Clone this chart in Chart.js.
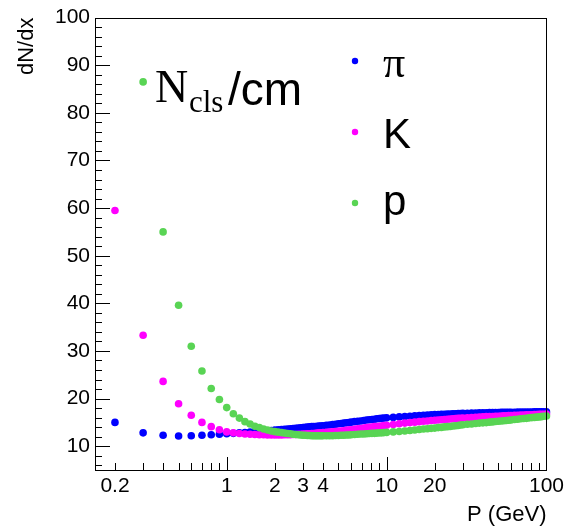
<!DOCTYPE html>
<html>
<head>
<meta charset="utf-8">
<script src="https://cdn.jsdelivr.net/npm/chart.js@4.4.1/dist/chart.umd.min.js"></script>
<style>
  html, body { margin: 0; padding: 0; background: #fff; }
  canvas { display: block; }
</style>
</head>
<body>
<canvas id="dedxChart" width="568" height="531"></canvas>
<script>
// momentum grid (GeV)
const momentum = [0.2, 0.3, 0.4, 0.5, 0.6, 0.7, 0.8, 0.9, 1.0,
  1.1, 1.2, 1.3, 1.4, 1.5, 1.6, 1.7, 1.8, 1.9, 2.0,
  2.1, 2.2, 2.3, 2.4, 2.5, 2.6, 2.7, 2.8, 2.9, 3.0,
  3.1, 3.2, 3.3, 3.4, 3.5, 3.6, 3.7, 3.8, 3.9, 4.0,
  4.2, 4.4, 4.6, 4.8, 5.0, 5.2, 5.4, 5.6, 5.8, 6.0,
  6.3, 6.6, 6.9, 7.2, 7.5, 7.8, 8.1, 8.4, 8.7, 9.0, 9.3, 9.6, 10,
  11, 12, 13, 14, 15, 16, 17, 18, 19, 20,
  21, 22, 23, 24, 25, 26, 27, 28, 29, 30,
  32, 34, 36, 38, 40, 42, 44, 46, 48, 50, 52, 54, 56, 58, 60,
  63, 66, 69, 72, 75, 78, 81, 84, 87, 90, 93, 96, 100];

// dN/dx per species, same order as momentum
const pion = [15.0, 12.8, 12.3, 12.15, 12.2, 12.3, 12.4, 12.5, 12.6,
  12.7, 12.8, 12.85, 12.95, 13.0, 13.1, 13.15, 13.25, 13.3, 13.4,
  13.45, 13.5, 13.55, 13.6, 13.65, 13.7, 13.75, 13.8, 13.85, 13.9,
  13.95, 14.0, 14.05, 14.1, 14.1, 14.15, 14.2, 14.25, 14.25, 14.3,
  14.4, 14.45, 14.55, 14.6, 14.7, 14.75, 14.85, 14.9, 14.95, 15.05,
  15.15, 15.25, 15.3, 15.4, 15.5, 15.55, 15.6, 15.65, 15.75, 15.8, 15.85, 15.9, 15.95,
  16.05, 16.15, 16.25, 16.3, 16.4, 16.45, 16.5, 16.55, 16.6, 16.65,
  16.65, 16.7, 16.7, 16.75, 16.75, 16.8, 16.8, 16.85, 16.85, 16.9,
  16.9, 16.95, 16.95, 17.0, 17.0, 17.0, 17.05, 17.05, 17.05, 17.05, 17.1, 17.1, 17.1, 17.1, 17.1,
  17.1, 17.15, 17.15, 17.15, 17.15, 17.15, 17.15, 17.2, 17.2, 17.2, 17.2, 17.2, 17.2];

const kaon = [59.5, 33.3, 23.6, 18.9, 16.5, 15.0, 14.1, 13.45, 13.0,
  12.8, 12.65, 12.55, 12.5, 12.45, 12.4, 12.4, 12.35, 12.35, 12.35,
  12.35, 12.35, 12.4, 12.4, 12.4, 12.45, 12.45, 12.5, 12.5, 12.55,
  12.55, 12.6, 12.6, 12.65, 12.65, 12.7, 12.75, 12.8, 12.8, 12.85,
  12.9, 12.95, 13.0, 13.1, 13.15, 13.2, 13.25, 13.35, 13.4, 13.45,
  13.55, 13.65, 13.7, 13.8, 13.9, 13.95, 14.0, 14.1, 14.15, 14.2, 14.25, 14.35, 14.4,
  14.55, 14.7, 14.85, 14.95, 15.05, 15.15, 15.25, 15.3, 15.4, 15.45,
  15.5, 15.55, 15.6, 15.65, 15.7, 15.75, 15.8, 15.85, 15.85, 15.9,
  15.95, 16.0, 16.05, 16.1, 16.15, 16.2, 16.25, 16.25, 16.3, 16.3, 16.35, 16.4, 16.4, 16.45, 16.45,
  16.5, 16.5, 16.55, 16.55, 16.6, 16.6, 16.6, 16.65, 16.65, 16.7, 16.7, 16.7, 16.75];

const proton = [null, 86.5, 55.0, 39.6, 31.0, 25.8, 22.1, 19.8, 18.1,
  16.8, 15.9, 15.15, 14.65, 14.2, 13.9, 13.6, 13.4, 13.2, 13.05,
  12.95, 12.85, 12.75, 12.65, 12.6, 12.5, 12.45, 12.4, 12.35, 12.3,
  12.3, 12.25, 12.25, 12.2, 12.2, 12.2, 12.2, 12.2, 12.2, 12.2,
  12.2, 12.2, 12.2, 12.25, 12.25, 12.3, 12.3, 12.35, 12.35, 12.4,
  12.45, 12.5, 12.55, 12.55, 12.6, 12.65, 12.7, 12.7, 12.75, 12.8, 12.8, 12.85, 12.9,
  13.0, 13.1, 13.2, 13.3, 13.4, 13.5, 13.6, 13.65, 13.75, 13.8,
  13.9, 13.95, 14.05, 14.1, 14.15, 14.25, 14.3, 14.35, 14.45, 14.5,
  14.6, 14.65, 14.75, 14.85, 14.9, 14.95, 15.05, 15.1, 15.2, 15.25, 15.3, 15.35, 15.4, 15.45, 15.5,
  15.6, 15.65, 15.75, 15.8, 15.85, 15.95, 16.0, 16.05, 16.1, 16.15, 16.2, 16.3, 16.35];

const xTickLabels = [0.2, 1, 2, 3, 4, 10, 20, 100];
const yTickLabels = [10, 20, 30, 40, 50, 60, 70, 80, 90, 100];

const BLUE = "#0000ff";
const MAGENTA = "#ff00ff";
const GREEN = "#59d454";

function toPoints(values) {
  return momentum
    .map((p, i) => ({ x: p, y: values[i] }))
    .filter((pt) => pt.y !== null);
}

const SANS = '"Liberation Sans", Arial, sans-serif';
const SERIF = '"Liberation Serif", "Times New Roman", serif';

// ROOT-like frame: box, inner ticks, legend and label text
const rootFrame = {
  id: "rootFrame",
  afterDraw(chart) {
    const { ctx, chartArea: a, scales } = chart;
    const xs = scales.x, ys = scales.y;
    ctx.save();
    ctx.strokeStyle = "#000";
    ctx.lineWidth = 1;
    ctx.strokeRect(Math.round(a.left) + 0.5, Math.round(a.top) + 0.5,
      Math.round(a.right - a.left), Math.round(a.bottom - a.top));

    ctx.beginPath();
    // y ticks, pointing into the frame
    for (let v = 6; v <= 100; v += 2) {
      const py = Math.round(ys.getPixelForValue(v)) + 0.5;
      const len = v % 10 === 0 ? 15 : 7;
      ctx.moveTo(a.left, py);
      ctx.lineTo(a.left + len, py);
    }
    // x ticks (log)
    for (let e = -1; e <= 2; e++) {
      for (let k = 1; k <= 9; k++) {
        const v = k * Math.pow(10, e);
        if (v < xs.min || v > xs.max * 1.0001) continue;
        const px = Math.round(xs.getPixelForValue(v)) + 0.5;
        const len = k === 1 ? 13 : 7;
        ctx.moveTo(px, a.bottom);
        ctx.lineTo(px, a.bottom - len);
      }
    }
    ctx.stroke();

    // legend
    const items = [
      { text: "\u03c0", color: BLUE, dotY: 61, baseY: 77, font: "44px " + SERIF },
      { text: "K", color: MAGENTA, dotY: 132, baseY: 148, font: "42px " + SANS },
      { text: "p", color: GREEN, dotY: 203, baseY: 215, font: "42px " + SANS },
    ];
    ctx.textBaseline = "alphabetic";
    ctx.textAlign = "left";
    items.forEach((it) => {
      ctx.fillStyle = it.color;
      ctx.beginPath();
      ctx.arc(355, it.dotY, 3.2, 0, Math.PI * 2);
      ctx.fill();
      ctx.fillStyle = "#000";
      ctx.font = it.font;
      ctx.fillText(it.text, 383, it.baseY);
    });

    // N_cls/cm label
    ctx.fillStyle = "#000";
    ctx.font = "46px " + SERIF;
    ctx.fillText("N", 155, 102);
    ctx.font = "31px " + SERIF;
    ctx.fillText("cls", 189, 112);
    ctx.font = "46px " + SANS;
    ctx.fillText("/cm", 228, 105);
    ctx.restore();
  },
};

const ctx = document.getElementById("dedxChart").getContext("2d");
const dedxChart = new Chart(ctx, {
  type: "scatter",
  data: {
    datasets: [
      { label: "\u03c0", data: toPoints(pion), backgroundColor: BLUE, order: 3 },
      { label: "K", data: toPoints(kaon), backgroundColor: MAGENTA, order: 2 },
      { label: "p", data: toPoints(proton), backgroundColor: GREEN, order: 1 },
    ],
  },
  options: {
    responsive: false,
    animation: false,
    layout: { padding: { top: 13, right: 21, left: 0, bottom: 0 } },
    elements: {
      point: { radius: 3.8, borderWidth: 0, hoverRadius: 3.8 },
    },
    datasets: { scatter: { clip: 6 } },
    scales: {
      x: {
        type: "logarithmic",
        min: 0.15,
        max: 100,
        grid: { display: false, drawTicks: false },
        border: { display: false },
        afterBuildTicks: (scale) => {
          scale.ticks = xTickLabels.map((v) => ({ value: v }));
        },
        afterFit: (scale) => { scale.height = 61; },
        ticks: {
          autoSkip: false,
          maxRotation: 0,
          padding: 4,
          color: "#000",
          font: { family: SANS, size: 21 },
          callback: (value) => String(value),
        },
        title: {
          display: true,
          text: "P (GeV)",
          align: "end",
          color: "#000",
          font: { family: SANS, size: 22 },
          padding: { bottom: 3 },
        },
      },
      y: {
        min: 5,
        max: 100,
        grid: { display: false, drawTicks: false },
        border: { display: false },
        afterBuildTicks: (scale) => {
          scale.ticks = yTickLabels.map((v) => ({ value: v }));
        },
        afterFit: (scale) => { scale.width = 95; },
        ticks: {
          padding: 5,
          color: "#000",
          font: { family: SANS, size: 21 },
        },
        title: {
          display: true,
          text: "dN/dx",
          align: "end",
          color: "#000",
          font: { family: SANS, size: 22 },
          padding: { top: 14 },
        },
      },
    },
    plugins: {
      legend: { display: false },
      tooltip: { enabled: false },
    },
  },
  plugins: [rootFrame],
});
</script>
</body>
</html>
